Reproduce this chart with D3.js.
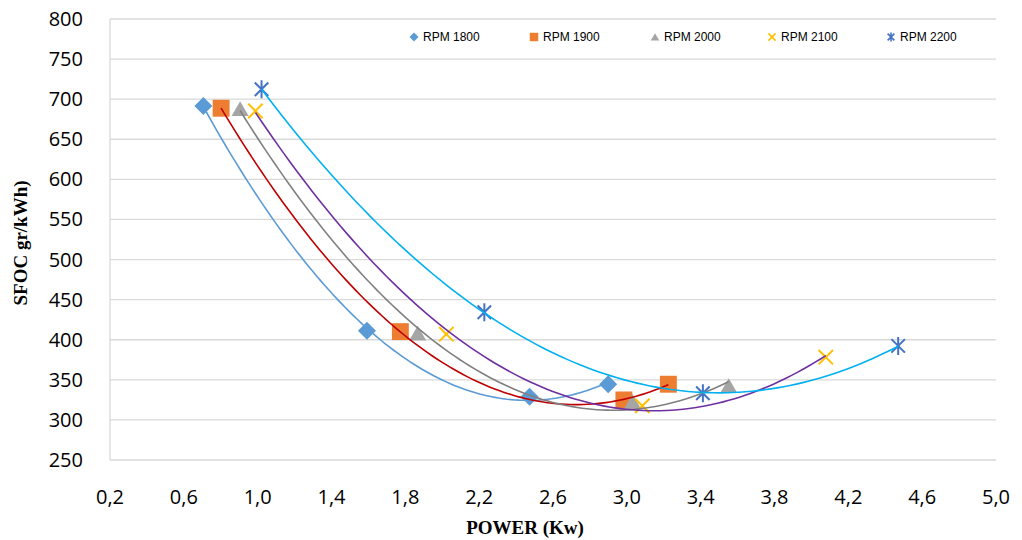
<!DOCTYPE html>
<html>
<head>
<meta charset="utf-8">
<script src="https://cdn.jsdelivr.net/npm/d3@7"></script>
<style>
  html, body { margin: 0; padding: 0; background: #fff; }
  svg { display: block; }
</style>
</head>
<body>
<svg id="chart" width="1022" height="540"></svg>
<script>
// ---- Data ----
const seriesNames = ["RPM 1800", "RPM 1900", "RPM 2000", "RPM 2100", "RPM 2200"];
const power1800 = [0.706, 1.592, 2.473, 2.899];
const sfoc1800  = [691.5, 411.3, 329.0, 344.5];
const power1900 = [0.802, 1.773, 2.984, 3.225];
const sfoc1900  = [688.7, 410.1, 324.9, 344.5];
const power2000 = [0.905, 1.867, 3.031, 3.552];
const sfoc2000  = [688.0, 408.0, 322.8, 342.4];
const power2100 = [0.988, 2.022, 3.084, 4.078];
const sfoc2100  = [685.3, 406.9, 317.5, 378.2];
const power2200 = [1.021, 2.228, 3.412, 4.470];
const sfoc2200  = [712.3, 434.3, 333.3, 392.3];
const xTicks = [0.2, 0.6, 1.0, 1.4, 1.8, 2.2, 2.6, 3.0, 3.4, 3.8, 4.2, 4.6, 5.0];
const yTicks = [250, 300, 350, 400, 450, 500, 550, 600, 650, 700, 750, 800];

const markerColors = ["#5b9bd5", "#ed7d31", "#a5a5a5", "#ffc000", "#4472c4"];
const trendColors  = ["#5b9bd5", "#c00000", "#808080", "#7030a0", "#00b0f0"];
const markerTypes  = ["diamond", "square", "triangle", "cross", "star"];

const series = [
  { name: seriesNames[0], x: power1800, y: sfoc1800 },
  { name: seriesNames[1], x: power1900, y: sfoc1900 },
  { name: seriesNames[2], x: power2000, y: sfoc2000 },
  { name: seriesNames[3], x: power2100, y: sfoc2100 },
  { name: seriesNames[4], x: power2200, y: sfoc2200 },
];

// ---- Scales ----
const svg = d3.select("#chart");
const x = d3.scaleLinear().domain([0.2, 5.0]).range([110, 996]);
const y = d3.scaleLinear().domain([250, 800]).range([460, 19]);

// ---- Gridlines ----
svg.append("g").selectAll("line").data(yTicks).join("line")
  .attr("x1", x(0.2)).attr("x2", x(5.0))
  .attr("y1", d => y(d)).attr("y2", d => y(d))
  .attr("stroke", "#d9d9d9").attr("stroke-width", 1.3);
svg.append("line")
  .attr("x1", x(0.2)).attr("x2", x(0.2))
  .attr("y1", y(800)).attr("y2", y(250))
  .attr("stroke", "#d9d9d9").attr("stroke-width", 1.3);

// ---- Tick labels ----
svg.append("g").selectAll("text").data(yTicks).join("text")
  .attr("x", 83).attr("y", d => y(d))
  .attr("dy", "0.35em")
  .attr("text-anchor", "end")
  .attr("font-family", "'Open Sans', 'Noto Sans', sans-serif")
  .attr("font-size", 20).attr("fill", "#000")
  .text(d => d);
svg.append("g").selectAll("text").data(xTicks).join("text")
  .attr("x", d => x(d)).attr("y", 497)
  .attr("dy", "0.35em")
  .attr("text-anchor", "middle")
  .attr("font-family", "'Open Sans', 'Noto Sans', sans-serif")
  .attr("font-size", 20).attr("fill", "#000")
  .text(d => d3.format(".1f")(d).replace(".", ","));

// ---- Axis titles ----
svg.append("text")
  .attr("x", 525).attr("y", 534)
  .attr("text-anchor", "middle")
  .attr("font-family", "'Liberation Serif', 'Times New Roman', serif")
  .attr("font-weight", "bold").attr("font-size", 19)
  .text("POWER (Kw)");
svg.append("text")
  .attr("transform", "translate(27,243) rotate(-90)")
  .attr("text-anchor", "middle")
  .attr("font-family", "'Liberation Serif', 'Times New Roman', serif")
  .attr("font-weight", "bold").attr("font-size", 19)
  .text("SFOC gr/kWh)");

// ---- Marker shapes ----
function markerPath(type, r) {
  switch (type) {
    case "diamond": return `M0,${-r}L${r},0L0,${r}L${-r},0Z`;
    case "square": return `M${-r*0.94},${-r*0.94}H${r*0.94}V${r*0.94}H${-r*0.94}Z`;
    case "triangle": return `M0,${-r*0.85}L${r*0.95},${r*0.8}L${-r*0.95},${r*0.8}Z`;
    case "cross": { const a = r*0.8; return `M${-a},${-a}L${a},${a}M${-a},${a}L${a},${-a}`; }
    case "star": { const a = r*0.75; return `M${-a},${-a}L${a},${a}M${-a},${a}L${a},${-a}M0,${-r}L0,${r}`; }
  }
}
function drawMarker(g, type, color, r, sw) {
  const p = g.append("path").attr("d", markerPath(type, r));
  if (type === "cross" || type === "star") {
    p.attr("fill", "none").attr("stroke", color).attr("stroke-width", sw);
  } else {
    p.attr("fill", color).attr("stroke", "none");
  }
}

// ---- Markers ----
series.forEach((s, i) => {
  const g = svg.append("g");
  s.x.forEach((xv, j) => {
    const mg = g.append("g").attr("transform", `translate(${x(xv)},${y(s.y[j])})`);
    drawMarker(mg, markerTypes[i], markerColors[i], 9, 2);
  });
});

// ---- Polynomial (order 2) trendlines, least squares ----
function quadFit(xs, ys) {
  let S = [0,0,0,0,0], T = [0,0,0];
  xs.forEach((xv, k) => {
    for (let p = 0; p < 5; p++) S[p] += Math.pow(xv, p);
    for (let p = 0; p < 3; p++) T[p] += ys[k] * Math.pow(xv, p);
  });
  const A = [[S[0],S[1],S[2],T[0]],[S[1],S[2],S[3],T[1]],[S[2],S[3],S[4],T[2]]];
  for (let c = 0; c < 3; c++) {
    let piv = c;
    for (let r = c+1; r < 3; r++) if (Math.abs(A[r][c]) > Math.abs(A[piv][c])) piv = r;
    [A[c], A[piv]] = [A[piv], A[c]];
    for (let r = 0; r < 3; r++) {
      if (r === c) continue;
      const f = A[r][c] / A[c][c];
      for (let k = c; k < 4; k++) A[r][k] -= f * A[c][k];
    }
  }
  return [A[0][3]/A[0][0], A[1][3]/A[1][1], A[2][3]/A[2][2]];
}
const line = d3.line().x(d => x(d[0])).y(d => y(d[1]));
series.forEach((s, i) => {
  const c = quadFit(s.x, s.y);
  const x0 = d3.min(s.x), x1 = d3.max(s.x);
  const pts = d3.range(0, 101).map(k => {
    const xv = x0 + (x1 - x0) * k / 100;
    return [xv, c[0] + c[1]*xv + c[2]*xv*xv];
  });
  svg.append("path").attr("d", line(pts))
    .attr("fill", "none").attr("stroke", trendColors[i]).attr("stroke-width", 1.6);
});

// ---- Legend ----
const legendX = [414, 534, 655, 772, 891];
series.forEach((s, i) => {
  const g = svg.append("g").attr("transform", `translate(${legendX[i]},37)`);
  drawMarker(g, markerTypes[i], markerColors[i], 4.5, 1.6);
  svg.append("text")
    .attr("x", legendX[i] + 9).attr("y", 37).attr("dy", "0.35em")
    .attr("font-family", "'Liberation Sans', Arial, sans-serif")
    .attr("font-size", 12).attr("fill", "#000")
    .text(s.name);
});
</script>
</body>
</html>
